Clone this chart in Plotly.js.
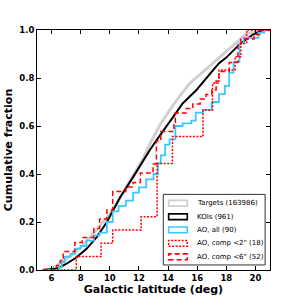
<!DOCTYPE html>
<html>
<head>
<meta charset="utf-8">
<script src="https://cdn.plot.ly/plotly-3.0.1.min.js"></script>
<style>html,body{margin:0;padding:0;background:#fff;}#chart{width:300px;height:300px;}</style>
</head>
<body>
<div id="chart"></div>
<script>
// Targets (163986) - cumulative fraction vs galactic latitude
const targetsX = [5.4, 6.0, 6.5, 7.0, 7.5, 8.0, 8.7, 9.4, 10.0, 10.5, 11.0, 11.6, 12.2, 12.75, 13.4, 14.1, 14.8, 15.5, 16.2, 16.9, 17.5, 18.2, 18.8, 19.4, 20.0, 20.5, 21];
const targetsY = [0, 0.005, 0.025, 0.045, 0.068, 0.095, 0.14, 0.19, 0.235, 0.28, 0.33, 0.39, 0.455, 0.525, 0.6, 0.665, 0.725, 0.778, 0.815, 0.855, 0.885, 0.92, 0.955, 0.985, 0.995, 1.0, 1.0];
// KOIs (961)
const koisX = [5.4, 6.0, 6.4, 7.0, 7.7, 8.4, 9.1, 9.8, 10.2, 10.7, 11.6, 12.3, 12.75, 13.2, 13.65, 14.35, 15.0, 15.95, 16.85, 17.5, 18.0, 18.9, 19.8, 20.5, 21];
const koisY = [0, 0.002, 0.006, 0.025, 0.052, 0.088, 0.137, 0.2, 0.245, 0.302, 0.387, 0.457, 0.5, 0.54, 0.58, 0.638, 0.694, 0.75, 0.815, 0.862, 0.885, 0.94, 0.98, 1.0, 1.0];
// AO, all (90)
const aoAllX = [5.4, 6.5, 6.7, 6.9, 7.3, 7.6, 8.0, 8.4, 8.9, 9.3, 9.8, 10.2, 10.6, 11.1, 11.6, 12.0, 12.5, 13.0, 13.3, 13.5, 13.8, 14.1, 14.5, 15.0, 15.6, 15.9, 16.4, 17.0, 17.5, 17.9, 18.2, 18.5, 18.9, 19.2, 20.2, 20.6, 21];
const aoAllY = [0, 0.011, 0.033, 0.056, 0.067, 0.089, 0.1, 0.122, 0.144, 0.156, 0.2, 0.244, 0.267, 0.289, 0.322, 0.344, 0.378, 0.4, 0.444, 0.478, 0.522, 0.544, 0.6, 0.611, 0.622, 0.656, 0.667, 0.7, 0.733, 0.767, 0.822, 0.867, 0.944, 0.967, 0.989, 1.0, 1.0];
// AO, comp <2" (18)
const comp2X = [5.4, 7.7, 9.4, 10.2, 12.15, 13.25, 14.3, 16.4, 17.05, 17.5, 18.6, 19.0, 19.4, 21];
const comp2Y = [0, 0.056, 0.111, 0.167, 0.222, 0.444, 0.556, 0.667, 0.778, 0.833, 0.889, 0.944, 1.0, 1.0];
// AO, comp <6" (52)
const comp6X = [5.4, 6.35, 6.6, 6.8, 7.6, 8.1, 8.9, 9.3, 9.8, 10.2, 11.1, 11.6, 12.1, 12.97, 13.2, 13.5, 14.4, 14.5, 15.25, 15.7, 16.2, 16.6, 17.0, 17.3, 17.5, 18.2, 18.8, 19.0, 19.9, 20.3, 21];
const comp6Y = [0, 0.019, 0.04, 0.077, 0.115, 0.135, 0.173, 0.212, 0.25, 0.327, 0.346, 0.365, 0.404, 0.442, 0.538, 0.577, 0.615, 0.654, 0.673, 0.692, 0.712, 0.731, 0.75, 0.788, 0.827, 0.865, 0.942, 0.962, 0.981, 1.0, 1.0];

const xTicks = [6, 8, 10, 12, 14, 16, 18, 20];
const yTicks = [0, 0.2, 0.4, 0.6, 0.8, 1.0];
const yTickText = ['0.0', '0.2', '0.4', '0.6', '0.8', '1.0'];
const legendLabels = ['Targets (163986)', 'KOIs (961)', 'AO, all (90)', 'AO, comp &lt;2" (18)', 'AO, comp &lt;6" (52)'];

const styles = [
  {color: '#cfcfcf', width: 2.8, dash: 'solid', shape: 'linear'},
  {color: '#000000', width: 2, dash: 'solid', shape: 'linear'},
  {color: '#3cc8ff', width: 1.8, dash: 'solid', shape: 'hv'},
  {color: '#ff0000', width: 1.5, dash: '2px,1.5px', shape: 'hv'},
  {color: '#ff0000', width: 1.5, dash: '5px,3px', shape: 'hv'}
];
const series = [[targetsX, targetsY], [koisX, koisY], [aoAllX, aoAllY], [comp2X, comp2Y], [comp6X, comp6Y]];

const traces = series.map((s, i) => ({
  type: 'scatter', mode: 'lines', x: s[0], y: s[1],
  line: {color: styles[i].color, width: styles[i].width, dash: styles[i].dash, shape: styles[i].shape},
  showlegend: false, hoverinfo: 'skip'
}));

// manual matplotlib-like legend
const shapes = [];
const annotations = [];
const lx0 = 0.542, lx1 = 0.979, ly0 = 0.021, ly1 = 0.315;
shapes.push({type: 'rect', xref: 'paper', yref: 'paper', x0: lx0, x1: lx1, y0: ly0, y1: ly1,
  line: {color: '#333', width: 1}, fillcolor: '#fff', layer: 'above'});
const rowY = [0.278, 0.222, 0.167, 0.111, 0.055];
legendLabels.forEach((lab, i) => {
  shapes.push({type: 'rect', xref: 'paper', yref: 'paper', x0: 0.565, x1: 0.645,
    y0: rowY[i] - 0.012, y1: rowY[i] + 0.012,
    line: {color: styles[i].color, width: i === 0 ? 1.8 : 1.6, dash: styles[i].dash}, layer: 'above'});
  annotations.push({xref: 'paper', yref: 'paper', x: 0.68, y: rowY[i], xanchor: 'left', yanchor: 'middle',
    text: lab, showarrow: false, font: {family: 'DejaVu Sans', size: 7, color: '#000'}});
});

const tickFont = {family: 'DejaVu Sans', size: 8.5, color: '#000', weight: 'bold'};
const titleFont = {family: 'DejaVu Sans', size: 11, color: '#000', weight: 'bold'};

const layout = {
  width: 300, height: 300,
  margin: {l: 37, r: 30, t: 30, b: 30},
  paper_bgcolor: '#fff', plot_bgcolor: '#fff',
  xaxis: {
    range: [5, 21], tickvals: xTicks, ticktext: xTicks.map(String),
    ticks: 'inside', ticklen: 4, tickwidth: 1, tickcolor: '#000',
    showline: true, linecolor: '#000', linewidth: 1, mirror: 'ticks',
    showgrid: false, zeroline: false, tickfont: tickFont,
    title: {text: 'Galactic latitude (deg)', font: titleFont, standoff: 2},
    automargin: false
  },
  yaxis: {
    range: [0, 1], tickvals: yTicks, ticktext: yTickText,
    ticks: 'inside', ticklen: 4, tickwidth: 1, tickcolor: '#000',
    showline: true, linecolor: '#000', linewidth: 1, mirror: 'ticks',
    showgrid: false, zeroline: false, tickfont: tickFont,
    title: {text: 'Cumulative fraction', font: titleFont, standoff: 4},
    automargin: false
  },
  shapes: shapes,
  annotations: annotations
};

Plotly.newPlot('chart', traces, layout, {staticPlot: true, displayModeBar: false});
</script>
</body>
</html>
